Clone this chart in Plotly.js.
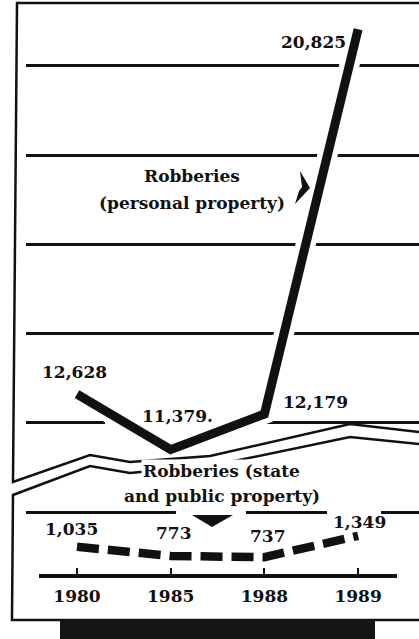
<!DOCTYPE html>
<html>
<head>
<meta charset="utf-8">
<script src="https://cdn.plot.ly/plotly-3.0.1.min.js"></script>
<style>
html,body{margin:0;padding:0;background:#fff;}
#chart{width:419px;height:639px;}
</style>
</head>
<body>
<div id="chart"></div>
<script>
// ---- data ----
const years = ['1980', '1985', '1988', '1989'];
const personalProperty = [12628, 11379, 12179, 20825];
const statePublicProperty = [1035, 773, 737, 1349];
const personalLabels = ['12,628', '11,379.', '12,179', '20,825'];
const stateLabels = ['1,035', '773', '737', '1,349'];
const seriesTitles = ['Robberies', '(personal property)', 'Robberies (state', 'and public property)'];

// ---- helpers for decorative (non-data) paper positions ----
const W = 419, H = 639;
const px = x => (x / W).toFixed(4);
const py = y => (1 - y / H).toFixed(4);
function path(pts, close) {
  let s = pts.map((p, i) => (i ? 'L ' : 'M ') + px(p[0]) + ' ' + py(p[1])).join(' ');
  return close ? s + ' Z' : s;
}
const FONT = 'DejaVu Serif, Liberation Serif, serif';

const traces = [
  { x: years, y: personalProperty, xaxis: 'x', yaxis: 'y', mode: 'lines',
    line: { color: '#ffffff', width: 20 }, hoverinfo: 'skip', showlegend: false },
  { x: years, y: personalProperty, xaxis: 'x', yaxis: 'y', mode: 'lines',
    line: { color: '#111111', width: 9 }, showlegend: false },
  { x: years, y: statePublicProperty, xaxis: 'x', yaxis: 'y2', mode: 'lines',
    line: { color: '#111111', width: 8.5, dash: '22px,9px' }, showlegend: false }
];

const lineStyle = w => ({ color: '#111111', width: w });
const shapes = [
  // gap in the lowest upper grid line (between grid and traces)
  { type: 'rect', xref: 'x', yref: 'y', layer: 'between',
    x0: 0.3, x1: 1.97, y0: 11880, y1: 12120, fillcolor: '#fff', line: { width: 0 } },
  // frame of upper panel with break line
  { type: 'path', xref: 'paper', yref: 'paper', layer: 'above',
    path: path([[419, 3], [17, 3], [13, 482], [90, 455], [130, 462], [210, 456], [350, 424], [419, 432]]),
    line: lineStyle(2.5) },
  // frame of lower panel with break line
  { type: 'path', xref: 'paper', yref: 'paper', layer: 'above',
    path: path([[419, 444], [350, 437], [215, 465], [130, 473], [90, 466], [13, 495], [12, 620], [419, 620]]),
    line: lineStyle(2.5) },
  // gaps in lower grid line
  { type: 'rect', xref: 'paper', yref: 'paper', layer: 'above',
    x0: px(176), x1: px(246), y0: py(518), y1: py(508), fillcolor: '#fff', line: { width: 0 } },
  { type: 'rect', xref: 'paper', yref: 'paper', layer: 'above',
    x0: px(327), x1: px(381), y0: py(518), y1: py(508), fillcolor: '#fff', line: { width: 0 } },
  // pointer triangle for state series
  { type: 'path', xref: 'paper', yref: 'paper', layer: 'above',
    path: path([[192, 515], [233, 515], [212, 527]], true), fillcolor: '#111', line: { width: 0 } },
  // pointer for personal series
  { type: 'path', xref: 'paper', yref: 'paper', layer: 'above',
    path: path([[300, 171], [310, 188], [295, 204], [299, 191], [302, 187]], true), fillcolor: '#111', line: { width: 0 } },
  // axis baseline
  { type: 'line', xref: 'paper', yref: 'paper', layer: 'above',
    x0: px(39), x1: px(397), y0: py(576), y1: py(576), line: lineStyle(4) },
  // black bar at bottom
  { type: 'rect', xref: 'paper', yref: 'paper', layer: 'above',
    x0: px(60), x1: px(375), y0: py(639), y1: py(620), fillcolor: '#151515', line: { width: 0 } }
];

const boldFont = { family: FONT, size: 17, color: '#111', weight: 'bold' };
const annotations = [];
// value labels anchored to the data points (x given as category index)
const pShift = [[-2, 22], [7, 34], [51, 12], [-11, -13]];
personalProperty.forEach((v, i) => {
  annotations.push({ x: i, y: v, xref: 'x', yref: 'y', text: personalLabels[i],
    showarrow: false, font: boldFont, borderpad: 0,
    bgcolor: i === 1 ? '#fff' : 'rgba(0,0,0,0)',
    xanchor: i === 3 ? 'right' : 'center', yanchor: 'middle',
    xshift: pShift[i][0], yshift: pShift[i][1] });
});
const sShift = [[-5, 18], [3, 23], [4, 21], [1, 14]];
statePublicProperty.forEach((v, i) => {
  annotations.push({ x: i, y: v, xref: 'x', yref: 'y2', text: stateLabels[i],
    showarrow: false, font: boldFont, borderpad: 0,
    xanchor: 'center', yanchor: 'middle',
    xshift: sShift[i][0], yshift: sShift[i][1] });
});
// series titles
const titlePos = [[192, 176], [192, 203], [222, 471], [222, 496]];
seriesTitles.forEach((t, i) => {
  annotations.push({ x: px(titlePos[i][0]), y: py(titlePos[i][1]), xref: 'paper', yref: 'paper',
    text: t, showarrow: false, font: boldFont, bgcolor: i >= 2 ? '#fff' : 'rgba(0,0,0,0)',
    borderpad: 1, xanchor: 'center', yanchor: 'middle' });
});

const layout = {
  width: W, height: H,
  margin: { l: 0, r: 0, t: 0, b: 0, pad: 0 },
  paper_bgcolor: '#fff', plot_bgcolor: 'rgba(0,0,0,0)',
  showlegend: false,
  font: { family: FONT, color: '#111' },
  xaxis: {
    type: 'category', domain: [26 / W, 1], range: [-0.544, 3.65], anchor: 'y2',
    showgrid: false, zeroline: false, showline: false,
    ticks: 'inside', ticklen: 9, tickwidth: 2, tickcolor: '#111',
    tickfont: boldFont, ticklabelstandoff: 7, automargin: false, fixedrange: true
  },
  yaxis: {
    domain: [1 - 475 / H, 1], range: [10809, 21483], anchor: 'x',
    tick0: 0, dtick: 2000, showgrid: true, gridcolor: '#111', gridwidth: 3,
    showticklabels: false, ticks: '', zeroline: false, showline: false, automargin: false
  },
  yaxis2: {
    domain: [1 - 577 / H, 1 - 500 / H], range: [171, 2371], anchor: 'x',
    tick0: 0, dtick: 2000, showgrid: true, gridcolor: '#111', gridwidth: 3,
    showticklabels: false, ticks: '', zeroline: false, showline: false, automargin: false
  },
  shapes: shapes,
  annotations: annotations
};

Plotly.newPlot('chart', traces, layout, { staticPlot: true, displayModeBar: false });
</script>
</body>
</html>
